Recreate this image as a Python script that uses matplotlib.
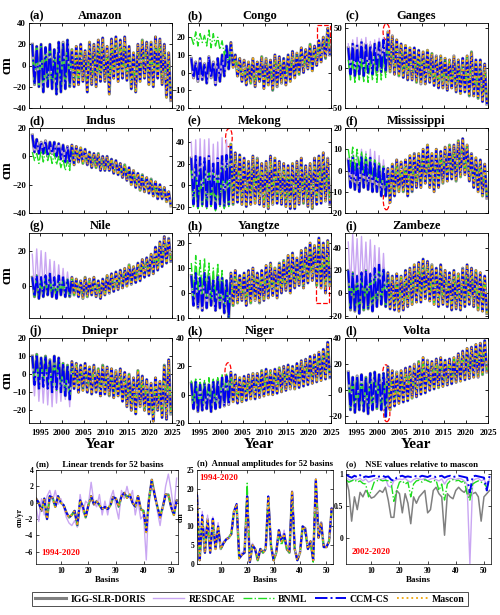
import matplotlib
matplotlib.use("Agg")
import matplotlib.pyplot as plt
from matplotlib.patches import Ellipse, Rectangle
from matplotlib.lines import Line2D

plt.rcParams['font.family'] = ['Liberation Serif', 'DejaVu Serif']
plt.rcParams['font.weight'] = 'bold'
plt.rcParams['axes.labelweight'] = 'bold'
plt.rcParams['axes.titleweight'] = 'bold'
plt.rcParams['xtick.direction'] = 'in'
plt.rcParams['ytick.direction'] = 'in'

# ---- time series: yearly seasonal high / low (cm), 1993-2024 ----
years = list(range(1993, 2025))
mascon_start = 2002

amazon_hi = [20, 18, 20, 17, 20, 15, 22, 22, 24, 15, 18, 20, 14, 22, 20, 24, 26, 18, 25, 27, 24, 27, 18, 12, 20, 24, 22, 22, 27, 25, 20, 12]
amazon_lo = [-18, -20, -25, -20, -22, -27, -25, -22, -20, -20, -18, -15, -25, -18, -20, -15, -15, -27, -12, -15, -12, -14, -22, -25, -15, -12, -18, -20, -12, -18, -30, -33]

congo_hi = [8, 6, 8, 5, 9, 6, 8, 10, 15, 17, 10, 8, 7, 6, 8, 6, 9, 8, 7, 10, 9, 8, 10, 12, 11, 14, 13, 16, 15, 18, 20, 25]
congo_lo = [-3, -5, -4, -6, -3, -7, -5, -2, 2, 3, -2, -5, -7, -6, -8, -5, -9, -7, -10, -8, -6, -7, -5, -3, -1, 0, 2, 1, 4, 6, 8, 10]
congo_bnml_hi = [20, 23, 22, 21, 24, 22, 20, 18]
congo_bnml_lo = [16, 15, 17, 15, 14, 15, 13, 10]

ganges_hi = [25, 30, 28, 32, 30, 28, 30, 32, 35, 45, 40, 35, 30, 28, 25, 25, 22, 20, 22, 18, 15, 15, 12, 10, 15, 10, 12, 15, 20, 10, 10, 5]
ganges_lo = [-8, -10, -8, -10, -6, -8, -5, -5, -5, -5, -8, -10, -12, -15, -15, -18, -20, -20, -18, -22, -25, -25, -28, -25, -30, -32, -30, -35, -35, -38, -42, -45]
ganges_bnml_hi = [10, 12, 10, 12, 10, 12, 14, 15, 15]
ganges_bnml_lo = [-15, -18, -15, -17, -18, -16, -18, -15, -12]
ganges_resdcae_hi = [30, 35, 38, 36, 38, 33, 35, 37, 38]
ganges_resdcae_lo = [-5, -8, -5, -8, -4, -6, -3, -3, -3]

indus_hi = [15, 12, 10, 11, 10, 10, 9, 8, 7, 8, 7, 6, 5, 3, 2, 2, 0, 0, -2, -3, -5, -6, -8, -10, -12, -13, -15, -16, -18, -20, -22, -25]
indus_lo = [3, 2, 2, 0, 2, 0, -2, -4, -5, -6, -4, -5, -6, -8, -8, -10, -10, -10, -12, -13, -15, -17, -20, -22, -24, -25, -26, -28, -30, -30, -32, -35]
indus_bnml_hi = [3, 2, 4, 5, 3, 2, 0, -2, -3]
indus_bnml_lo = [-3, -5, -4, -3, -5, -6, -8, -10, -10]

mekong_hi = [25, 27, 26, 25, 27, 20, 25, 27, 28, 38, 30, 28, 25, 22, 27, 25, 20, 22, 27, 25, 22, 20, 18, 20, 22, 25, 18, 20, 25, 27, 30, 25]
mekong_lo = [-18, -20, -18, -20, -18, -22, -18, -20, -18, -18, -16, -18, -20, -18, -17, -18, -20, -22, -18, -17, -18, -20, -22, -22, -18, -17, -20, -22, -18, -17, -15, -18]
mekong_resdcae_hi = [40, 42, 43, 42, 43, 38, 40, 44, 42]
mekong_resdcae_lo = [-15, -17, -15, -17, -15, -18, -15, -17, -15]
mekong_bnml_hi = [15, 17, 16, 15, 17, 12, 15, 17, 18]
mekong_bnml_lo = [-20, -22, -20, -22, -20, -24, -20, -22, -20]

miss_hi = [5, 6, 4, 7, 5, 6, 4, 3, 2, 1, 3, 5, 4, 5, 7, 8, 8, 10, 12, 8, 10, 9, 11, 12, 12, 14, 15, 12, 8, 6, 5, 3]
miss_lo = [-8, -9, -10, -8, -9, -10, -10, -12, -12, -15, -12, -10, -10, -12, -10, -8, -8, -6, -8, -10, -8, -6, -5, -4, -5, -3, -2, -5, -8, -10, -12, -13]
miss_bnml_hi = [10, 11, 10, 9, 8, 6, 5, 4]
miss_bnml_lo = [2, 0, 1, -1, -2, -4, -5, -6]
miss_resdcae_hi = [6, 8, 7, 10, 9, 10, 9, 7, 5]
miss_resdcae_lo = [-5, -6, -7, -5, -6, -7, -8, -9, -9]

nile_hi = [5, 6, 5, 6, 7, 5, 6, 5, 4, 5, 4, 3, 5, 4, 5, 3, 4, 6, 7, 8, 9, 10, 12, 11, 13, 15, 16, 18, 22, 25, 28, 27]
nile_lo = [-6, -7, -6, -5, -6, -7, -5, -6, -6, -5, -6, -7, -6, -5, -6, -7, -5, -4, -3, -2, -1, 0, 1, 2, 3, 5, 6, 7, 9, 11, 13, 14]
nile_resdcae_hi = [18, 21, 20, 19, 15, 14, 12, 10, 8]
nile_resdcae_lo = [-3, -2, -4, -3, -4, -5, -4, -5, -5]

yangtze_hi = [7, 8, 6, 8, 7, 5, 7, 6, 5, 8, 9, 7, 8, 9, 10, 8, 9, 11, 12, 10, 12, 13, 15, 16, 14, 17, 18, 20, 19, 22, 20, 21]
yangtze_lo = [-5, -6, -7, -6, -5, -7, -6, -8, -10, -5, -4, -3, -5, -4, -3, -4, -3, -2, -1, -2, 0, 1, 0, 2, 3, 2, 4, 5, 3, 2, 0, 3]
yangtze_bnml_hi = [12, 15, 13, 14, 12, 10, 12, 9]
yangtze_bnml_lo = [-2, 0, -1, -2, -3, -4, -3, -5]

zambeze_hi = [20, 18, 15, 18, 20, 17, 22, 25, 22, 18, 15, 17, 15, 20, 22, 25, 27, 30, 28, 25, 22, 25, 20, 18, 20, 17, 22, 25, 22, 20, 18, 15]
zambeze_lo = [-15, -16, -18, -15, -14, -16, -12, -10, -12, -14, -15, -16, -15, -12, -10, -8, -8, -5, -7, -10, -12, -10, -12, -15, -14, -15, -12, -10, -12, -15, -16, -18]
zambeze_resdcae_hi = [45, 52, 48, 50, 45, 47, 42, 40, 35]
zambeze_resdcae_lo = [5, 8, 3, 6, 4, 2, 0, -2, -5]

dniepr_hi = [10, 11, 9, 10, 8, 10, 9, 6, 5, 7, 6, 5, 6, 4, 5, 3, 5, 4, 3, 2, 3, 1, 0, -2, 2, -1, -3, -5, -2, -4, 5, 8]
dniepr_lo = [-6, -8, -7, -8, -10, -9, -10, -12, -14, -8, -10, -9, -10, -11, -10, -12, -11, -12, -13, -12, -15, -18, -20, -22, -18, -20, -22, -26, -20, -24, -25, -22]
dniepr_resdcae_hi = [5, 6, 4, 5, 3, 5, 4, 2, 0]
dniepr_resdcae_lo = [-12, -15, -16, -17, -18, -16, -15, -14, -18]

niger_hi = [8, 9, 7, 8, 7, 9, 10, 12, 13, 16, 14, 12, 13, 14, 15, 15, 17, 18, 17, 18, 19, 20, 21, 20, 22, 24, 25, 27, 28, 30, 32, 37]
niger_lo = [-10, -12, -11, -10, -12, -10, -9, -8, -7, -5, -6, -5, -4, -3, -3, -2, -1, 0, 0, 1, 2, 3, 4, 4, 5, 6, 7, 8, 9, 10, 11, 12]
niger_bnml_hi = [10, 12, 11, 10, 12, 11, 12, 14, 15]
niger_bnml_lo = [-8, -10, -9, -8, -10, -8, -7, -6, -5]

volta_hi = [14, 10, 11, 12, 10, 13, 14, 12, 13, 18, 15, 14, 15, 17, 18, 20, 22, 25, 23, 22, 24, 25, 23, 24, 25, 28, 30, 32, 33, 35, 36, 38]
volta_lo = [-15, -17, -15, -16, -18, -15, -14, -15, -20, -15, -12, -10, -9, -8, -6, -5, -3, -2, 0, 1, 2, 3, 4, 5, 6, 7, 8, 9, 10, 10, 12, 14]

# ---- 52-basin statistics ----
basins = list(range(1, 53))
trend_common = [0.5, 0, -1, 0.5, -2, 0.8, 0.6, -0.5, 0.8, 0, -0.3, -1.2, -1.8, -1.5, -1.0, -2.8, 0.3, -0.5, -1.8, -0.3, 0.8, -0.2, 0.2, -0.3, -0.8, -0.5, -0.8, -0.3, 0.7, 0.5, -0.5, 0.8, 1.2, 0.6, 1.0, 0.0, -0.5, 0.8, -0.8, -1.0, -3.6, 0.5, 2.8, 1.0, -0.5, -1.8, -0.5, 1.0, 1.0, -0.5, -1.5, 0.3]
trend_resdcae = [-0.5, -2.3, 0.5, -1.5, 0.8, 1.5, 0.2, 1.5, -0.2, 0.5, -0.5, -1.8, -2.5, -2.8, -2.2, -3.0, 1.0, -1.2, 0.2, -0.2, 2.5, 0.0, -0.5, 1.0, -1.5, 0.2, -1.5, 0.5, 1.5, -0.5, -2.0, 1.5, 0.5, 2.0, 0.5, 1.5, -1.5, 0.2, -2.0, -1.5, -7.0, 1.0, 2.0, 1.5, -1.0, -2.8, -0.5, 2.0, 3.5, 1.5, -1.0, 3.0]

amp_ccm = [19, 1, 13, 3, 12, 3, 12, 4, 10, 4, 5.5, 6.5, 7, 8, 14, 16, 1.5, 2.5, 3, 18, 0.5, 5, 4, 1, 4, 3, 4, 18, 5, 1, 3, 9, 6, 8, 4, 3, 19.5, 4, 1, 3, 10, 9, 4, 6, 1, 22.5, 7, 11, 4.5, 4.5, 6, 15]
amp_bnml = [18, 1, 12, 3, 11, 4, 11, 4, 10, 4, 5.5, 6.5, 7, 8, 14, 15, 1.5, 2.5, 3, 21.5, 0.5, 5, 4, 1, 4, 3, 4, 17, 5, 1, 3, 8, 5, 7, 4, 3, 19, 4, 1, 3, 10, 8, 4, 6, 0.5, 22, 7, 10, 4.5, 4.5, 6, 14]
amp_resdcae = [19, 1.5, 14, 3, 13, 3, 12.5, 4, 11, 4, 6, 6.5, 7, 8, 14, 16, 2, 3, 3.5, 18, 1, 5.5, 4, 1.5, 4, 3, 4, 18, 5, 1.5, 3, 9, 6, 9, 4, 3, 19.5, 4.5, 1.5, 3, 10, 9, 4.5, 6, 1.5, 22.5, 7, 11, 4.5, 5, 6, 15]
amp_igg = [18, 1, 12, 3, 12, 3, 12, 4, 10, 4, 5.5, 6.5, 7, 8, 14, 15.5, 1.5, 2.5, 3, 18, 0.5, 5, 4, 1, 4, 3, 4, 17.5, 5, 1, 3, 9, 6, 8, 4, 3, 19, 4, 1, 3, 10, 9.5, 4, 6, 1, 22, 7, 11, 4.5, 4.5, 6, 14.5]

nse_igg = [0.93, 0.75, 0.27, 0.65, 0.45, 0.72, 0.65, 0.75, 0.7, 0.63, 0.65, 0.7, 0.75, 0.72, 0.8, 0.6, 0.33, 0.33, 0.75, 0.7, 0.4, 0.7, 0.55, 0.23, 0.65, 0.55, 0.65, 0.7, 0.75, 0.4, 0.45, 0.75, 0.8, 0.7, 0.65, 0.05, 0.7, 0.65, 0.62, 0.75, 0.8, 0.75, 0.72, 0.78, 0.65, 0.7, 0.72, 0.65, 0.27, 0.65, 0.7, 0.75]
nse_resdcae = [0.95, 0.92, 0.9, 0.93, 0.92, 0.94, 0.9, 0.93, 0.88, 0.9, 0.93, 0.94, 0.92, 0.93, 0.94, 0.82, 0.8, 0.9, 0.92, 0.93, 0.92, 0.94, 0.9, 0.88, 0.92, 0.94, 0.93, 0.92, 0.94, 0.9, 0.93, 0.94, 0.92, 0.9, 0.93, 0.85, 0.92, 0.94, 0.93, 0.92, 0.94, 0.93, 0.9, 0.85, -0.4, 0.9, 0.93, 0.94, 0.9, 0.92, 0.85, 0.93]
nse_bnml = [0.92, 0.88, 0.9, 0.92, 0.88, 0.9, 0.86, 0.85, 0.65, 0.75, 0.88, 0.9, 0.92, 0.9, 0.91, 0.9, 0.88, 0.58, 0.75, 0.88, 0.9, 0.85, 0.88, 0.65, 0.85, 0.9, 0.91, 0.88, 0.92, 0.9, 0.88, 0.9, 0.91, 0.75, 0.85, 0.6, 0.85, 0.9, 0.92, 0.9, 0.91, 0.88, 0.9, 0.7, 0.6, 0.85, 0.88, 0.9, 0.88, 0.86, 0.8, 0.9]
nse_ccm = [1.0, 0.97, 0.95, 0.98, 0.96, 0.99, 0.95, 0.97, 0.96, 0.97, 0.98, 0.96, 0.97, 0.98, 0.96, 0.97, 0.92, 0.9, 0.95, 0.97, 0.98, 0.96, 0.97, 0.96, 0.98, 0.97, 0.96, 0.98, 0.97, 0.96, 0.98, 0.97, 0.96, 0.97, 0.98, 0.95, 0.97, 0.98, 0.96, 0.97, 0.98, 0.97, 0.96, 0.95, 0.72, 0.97, 0.98, 0.97, 0.96, 0.95, 0.75, 0.98]

names = ['IGG-SLR-DORIS', 'RESDCAE', 'BNML', 'CCM-CS', 'Mascon']
styles = {
    'IGG-SLR-DORIS': dict(color='#808080', lw=2.2, ls='-'),
    'RESDCAE': dict(color='#c9a6f2', lw=1.0, ls='-'),
    'BNML': dict(color='#1fdc1f', lw=1.0, ls='-.'),
    'CCM-CS': dict(color='#0000f0', lw=1.4, ls='-.'),
    'Mascon': dict(color='#f2a60a', lw=1.3, ls=':'),
}


def zigzag(hi, lo, start=0):
    xs, ys = [], []
    for yr, h, l in zip(years[start:], hi[start:], lo[start:]):
        xs += [yr + 0.25, yr + 0.75]
        ys += [h, l]
    return xs, ys


def merge(early, common):
    return list(early) + list(common[len(early):])


# name, tag, hi, lo, ylim, yticks, overrides, marks
panels = [
    ('Amazon', '(a)', amazon_hi, amazon_lo, (-40, 40), [-40, -20, 0, 20, 40], {}, []),
    ('Congo', '(b)', congo_hi, congo_lo, (-20, 28), [-20, -10, 0, 10, 20],
     {'BNML': (congo_bnml_hi, congo_bnml_lo)}, [('rect', 2021.8, 13, 3.0, 14)]),
    ('Ganges', '(c)', ganges_hi, ganges_lo, (-50, 56), [-50, 0, 50],
     {'BNML': (ganges_bnml_hi, ganges_bnml_lo), 'RESDCAE': (ganges_resdcae_hi, ganges_resdcae_lo)},
     [('ell', 2001.9, 45, 1.5, 20)]),
    ('Indus', '(d)', indus_hi, indus_lo, (-40, 20), [-40, -20, 0, 20],
     {'BNML': (indus_bnml_hi, indus_bnml_lo)}, []),
    ('Mekong', '(e)', mekong_hi, mekong_lo, (-26, 53), [-20, 0, 20, 40],
     {'RESDCAE': (mekong_resdcae_hi, mekong_resdcae_lo), 'BNML': (mekong_bnml_hi, mekong_bnml_lo)},
     [('ell', 2001.8, 44, 1.5, 17)]),
    ('Mississippi', '(f)', miss_hi, miss_lo, (-20, 20), [-20, -10, 0, 10, 20],
     {'BNML': (miss_bnml_hi, miss_bnml_lo), 'RESDCAE': (miss_resdcae_hi, miss_resdcae_lo)},
     [('ell', 2001.9, -14, 1.4, 9)]),
    ('Nile', '(g)', nile_hi, nile_lo, (-18, 30), [0, 20],
     {'RESDCAE': (nile_resdcae_hi, nile_resdcae_lo)}, []),
    ('Yangtze', '(h)', yangtze_hi, yangtze_lo, (-10, 24), [-10, 0, 10, 20],
     {'BNML': (yangtze_bnml_hi, yangtze_bnml_lo)}, [('rect', 2021.7, -4, 2.9, 16)]),
    ('Zambeze', '(i)', zambeze_hi, zambeze_lo, (-22, 53), [-20, 0, 20, 40],
     {'RESDCAE': (zambeze_resdcae_hi, zambeze_resdcae_lo)}, []),
    ('Dniepr', '(j)', dniepr_hi, dniepr_lo, (-27, 20), [-20, -10, 0, 10, 20],
     {'RESDCAE': (dniepr_resdcae_hi, dniepr_resdcae_lo)}, []),
    ('Niger', '(k)', niger_hi, niger_lo, (-20, 40), [-20, 0, 20, 40],
     {'BNML': (niger_bnml_hi, niger_bnml_lo)}, [('ell', 2001.6, 16, 1.4, 13)]),
    ('Volta', '(l)', volta_hi, volta_lo, (-25, 40), [-20, 0, 20, 40], {},
     [('ell', 2001.8, 14, 1.4, 11), ('ell', 2002.0, -18, 1.4, 12)]),
]

W, H = 500, 615
fig = plt.figure(figsize=(W / 100, H / 100), dpi=100)

col_left = [29, 188, 345]
row_top = [23, 128, 233, 338]
pw, ph = 143, 85

for i, (name, tag, hi, lo, ylim, yticks, over, marks) in enumerate(panels):
    r, c = divmod(i, 3)
    ax = fig.add_axes([col_left[c] / W, 1 - (row_top[r] + ph) / H, pw / W, ph / H])
    start = years.index(mascon_start)
    for s in names:
        st = styles[s]
        if s in over:
            h = merge(over[s][0], hi)
            l = merge(over[s][1], lo)
        else:
            h, l = hi, lo
        xs, ys = zigzag(h, l, start if s == 'Mascon' else 0)
        ax.plot(xs, ys, color=st['color'], lw=st['lw'], ls=st['ls'])
    for m in marks:
        if m[0] == 'ell':
            ax.add_patch(Ellipse((m[1], m[2]), m[3], m[4], fill=False, ec='red', ls='--', lw=0.9))
        else:
            ax.add_patch(Rectangle((m[1], m[2]), m[3], m[4], fill=False, ec='red', ls='--', lw=0.9))
    ax.set_xlim(1992.5, 2025)
    ax.set_ylim(*ylim)
    ax.set_yticks(yticks)
    ax.set_xticks([1995, 2000, 2005, 2010, 2015, 2020, 2025])
    ax.tick_params(top=True, right=True, labelsize=6.3, length=2.5, width=0.6, pad=2)
    ax.tick_params(axis='x', pad=4)
    if r < 3:
        ax.set_xticklabels([])
    else:
        ax.set_xlabel('Year', fontsize=11, labelpad=1)
    if c == 0:
        ax.set_ylabel('cm', fontsize=10)
        ax.yaxis.set_label_coords(-0.105, 0.5)
    ax.set_title(name, fontsize=9, pad=3)
    ax.set_title(tag, loc='left', fontsize=9, pad=3)
    for sp in ax.spines.values():
        sp.set_linewidth(0.6)

# ---- bottom statistics panels ----
bt, bh = 470, 94
ax_m = fig.add_axes([36 / W, 1 - (bt + bh) / H, 142 / W, bh / H])
ax_n = fig.add_axes([197 / W, 1 - (bt + bh) / H, 136 / W, bh / H])
ax_o = fig.add_axes([346 / W, 1 - (bt + bh) / H, 145 / W, bh / H])

m_data = {'IGG-SLR-DORIS': trend_common, 'RESDCAE': trend_resdcae, 'BNML': trend_common,
          'CCM-CS': trend_common, 'Mascon': trend_common}
n_data = {'IGG-SLR-DORIS': amp_igg, 'RESDCAE': amp_resdcae, 'BNML': amp_bnml,
          'CCM-CS': amp_ccm, 'Mascon': amp_ccm}
o_data = {'IGG-SLR-DORIS': nse_igg, 'RESDCAE': nse_resdcae, 'BNML': nse_bnml, 'CCM-CS': nse_ccm}

for ax, data, glw in [(ax_m, m_data, 1.8), (ax_n, n_data, 1.8), (ax_o, o_data, 1.1)]:
    for s in names:
        if s not in data:
            continue
        st = styles[s]
        lw = glw if s == 'IGG-SLR-DORIS' else st['lw']
        ax.plot(basins, data[s], color=st['color'], lw=lw, ls=st['ls'])
    ax.set_xlim(1, 52.5)
    ax.set_xticks([10, 20, 30, 40, 50])
    ax.tick_params(top=True, right=True, labelsize=5.5, length=2, width=0.5, pad=2)
    ax.set_xlabel('Basins', fontsize=6.5, labelpad=1)
    for sp in ax.spines.values():
        sp.set_linewidth(0.5)

ax_m.set_ylim(-7.5, 4)
ax_m.set_yticks([-6, -4, -2, 0, 2, 4])
ax_m.set_ylabel('cm/yr', fontsize=5.5, labelpad=1)
ax_m.set_title('(m)      Linear trends for 52 basins', loc='left', fontsize=6.3, pad=3)
ax_m.text(3, -6.2, '1994-2020', color='red', fontsize=6.5, va='center')

ax_n.set_ylim(0, 25)
ax_n.set_yticks([0, 5, 10, 15, 20, 25])
ax_n.set_ylabel('cm', fontsize=5.5, labelpad=1)
ax_n.set_title('(n)  Annual amplitudes for 52 basins', loc='left', fontsize=6.3, pad=3)
ax_n.text(2, 23, '1994-2020', color='red', fontsize=6.5, va='center')

ax_o.set_ylim(-0.4, 1.07)
ax_o.set_yticks([0, 0.5, 1])
ax_o.set_yticklabels(['0', '0.5', '1'])
ax_o.set_title('(o)    NSE values relative to mascon', loc='left', fontsize=6.3, pad=3)
ax_o.text(3, -0.22, '2002-2020', color='red', fontsize=6.5, va='center')

handles = [Line2D([0], [0], color=styles[s]['color'], lw=styles[s]['lw'], ls=styles[s]['ls']) for s in names]
leg = fig.legend(handles, names, loc='center', bbox_to_anchor=(0.5, 0.026), ncol=5, fontsize=7,
                 frameon=True, fancybox=False, edgecolor='black', handlelength=3.2,
                 columnspacing=0.8, handletextpad=0.4, borderpad=0.3)
leg.get_frame().set_linewidth(0.6)

fig.savefig('out.png', dpi=100)
